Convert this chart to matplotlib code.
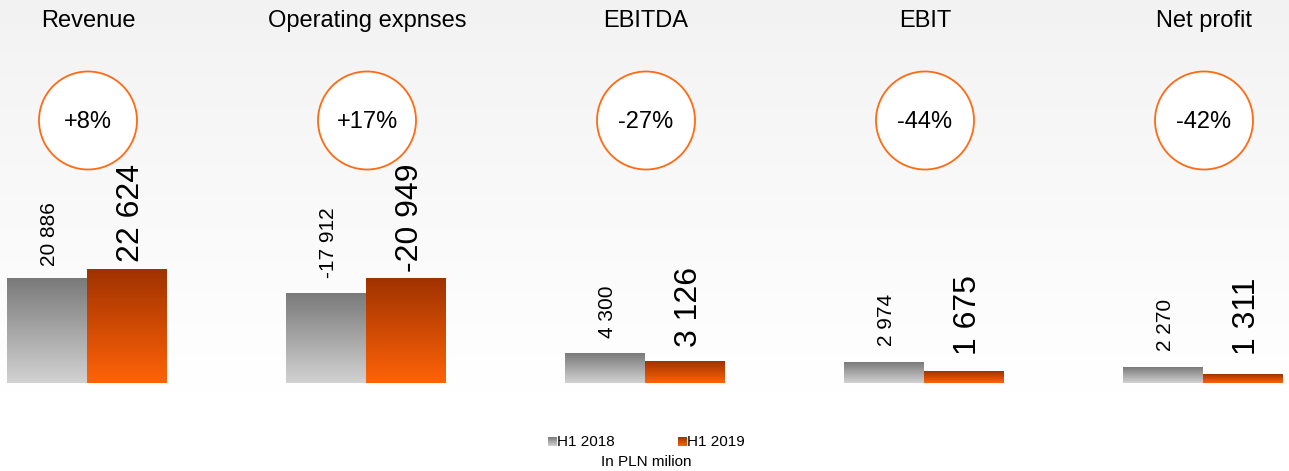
import numpy as np
import matplotlib
matplotlib.use("Agg")
import matplotlib.pyplot as plt
from matplotlib.patches import Circle

plt.rcParams['font.family'] = ['Liberation Sans', 'DejaVu Sans']

categories = ["Revenue", "Operating expnses", "EBITDA", "EBIT", "Net profit"]
h1_2018 = [20886, -17912, 4300, 2974, 2270]
h1_2019 = [22624, -20949, 3126, 1675, 1311]
changes = ["+8%", "+17%", "-27%", "-44%", "-42%"]
series_names = ["H1 2018", "H1 2019"]
unit_note = "In PLN milion"

# per-chart axis maximum (each group is its own mini chart)
y_max = [64600, 64600, 47500, 47500, 47500]
# label gap above bar (pixels) for each chart: (H1 2018, H1 2019)
label_gap_px = [(13, 8), (15, 6), (16, 15), (17, 17), (17, 19)]

W, H = 1289, 471
fig = plt.figure(figsize=(W / 100, H / 100), dpi=100)

# background gradient
bg = fig.add_axes([0, 0, 1, 1], zorder=0)
bg.set_axis_off()
grad = np.linspace(0, 1, 256).reshape(-1, 1)
top_c = np.array([0xf2, 0xf2, 0xf2]) / 255
bot_c = np.array([1.0, 1.0, 1.0])
t = np.clip(grad / 0.83, 0, 1) ** 0.9
img = top_c * (1 - t)[..., None] + bot_c * t[..., None]
img = img.reshape(256, 1, 3)
bg.imshow(img, aspect='auto', extent=[0, 1, 0, 1])
bg.set_xlim(0, 1)
bg.set_ylim(0, 1)


def px2fig(x, y):
    return x / W, 1 - y / H


lin = np.linspace(0, 1, 128).reshape(-1, 1)


def make_grad(c_top, c_bot):
    c_top = np.array(c_top) / 255
    c_bot = np.array(c_bot) / 255
    g = c_top * (1 - lin) + c_bot * lin
    return g.reshape(128, 1, 3)


gray_img = make_grad((0x7a, 0x7a, 0x7a), (0xd2, 0xd2, 0xd2))
orange_img = make_grad((0xa0, 0x32, 0x00), (0xff, 0x63, 0x08))

baseline_px = 383
top_px = 60
group_w = 279
first_center = 87
unit_px = 80

for i, cat in enumerate(categories):
    cx = first_center + group_w * i
    left_px = cx - group_w / 2
    fx, fy = px2fig(left_px, baseline_px)
    ax = fig.add_axes([fx, fy, group_w / W, (baseline_px - top_px) / H], zorder=2)
    ax.patch.set_alpha(0)
    ax.set_axis_off()
    half = group_w / unit_px / 2
    vals = [h1_2018[i], h1_2019[i]]
    bars = ax.bar([-0.5, 0.5], [abs(v) for v in vals], width=1.0,
                  color='none', edgecolor='none')
    for b, im in zip(bars, [gray_img, orange_img]):
        x0 = b.get_x()
        w = b.get_width()
        h = b.get_height()
        ax.imshow(im, aspect='auto', extent=[x0, x0 + w, 0, h], zorder=1)
    ax.set_xlim(-half, half)
    ax.set_ylim(0, y_max[i])
    # value labels
    for j, (b, v) in enumerate(zip(bars, vals)):
        txt = f"{v:,}".replace(",", " ")
        size = 15 if j == 0 else 23
        off = label_gap_px[i][j] * 0.72
        xoff = 1.6 if j == 0 else 2.6
        ax.annotate(txt, (b.get_x() + b.get_width() / 2, b.get_height()),
                    xytext=(xoff, off), textcoords='offset points',
                    rotation=90, ha='center', va='bottom', fontsize=size,
                    color='black')

# overlay in pixel coordinates
ov = fig.add_axes([0, 0, 1, 1], zorder=3)
ov.set_axis_off()
ov.patch.set_alpha(0)

for i, (cat, ch) in enumerate(zip(categories, changes)):
    cx = first_center + 1 + group_w * i
    ov.text(cx, 21, cat, ha='center', va='center', fontsize=17, color='black')
    circ = Circle((cx, 120.5), 49, facecolor='white', edgecolor='#ff6a13', lw=1.3)
    ov.add_patch(circ)
    ov.text(cx, 122, ch, ha='center', va='center', fontsize=17, color='black')

# legend
for k, (name, im) in enumerate(zip(series_names, [gray_img, orange_img])):
    x0 = 548 + 130 * k
    ov.imshow(im, aspect='auto', extent=[x0, x0 + 8.5, 446, 437], zorder=4)
    ov.text(x0 + 9, 441.5, name, ha='left', va='center', fontsize=11, color='black')
ov.text(646, 462, unit_note, ha='center', va='center', fontsize=11, color='black')
ov.set_xlim(0, W)
ov.set_ylim(H, 0)

fig.savefig("out.png", dpi=100)
